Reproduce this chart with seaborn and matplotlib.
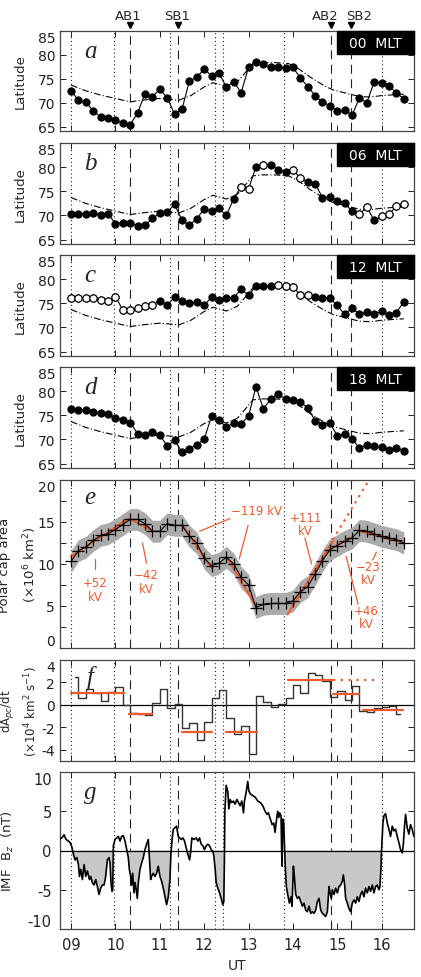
import numpy as np
import matplotlib
matplotlib.use('Agg')
import matplotlib.pyplot as plt
import matplotlib.transforms as mtrans
from matplotlib.patches import Rectangle
import seaborn as sns

sns.set_style('ticks')
plt.rcParams['font.family'] = ['DejaVu Sans']
plt.rcParams['axes.unicode_minus'] = False

# ---------------- data ----------------
# 10-min samples 09:00 - 16:30 UT
t10 = 9.0 + np.arange(46) / 6.0

lat_00 = [72.4, 70.6, 70.1, 68.3, 67.0, 66.9, 66.3, 65.8, 65.4, 67.9,
          71.9, 71.3, 72.8, 71.1, 67.6, 68.6, 74.6, 75.3, 77.1, 75.6,
          76.2, 73.3, 74.4, 72.1, 77.4, 78.6, 78.1, 77.4, 77.5, 77.2,
          77.4, 75.2, 73.4, 71.5, 70.1, 69.4, 68.2, 68.5, 67.4, 71.0,
          70.0, 74.4, 74.1, 73.5, 72.1, 70.8]
lat_06 = [70.35, 70.35, 70.35, 70.5, 70.0, 70.35, 68.3, 68.5, 68.4, 67.9,
          68.0, 69.4, 70.5, 70.7, 72.3, 69.0, 68.0, 69.3, 71.4, 70.9,
          71.5, 70.0, 73.5, 75.9, 75.5, 80.0, 80.5, 80.5, 79.5, 79.0,
          79.4, 77.8, 76.9, 76.6, 73.7, 73.8, 73.0, 72.5, 70.9, 70.3,
          71.7, 69.0, 69.8, 70.3, 71.9, 72.3]
lat_12 = [76.0, 76.0, 76.0, 76.0, 75.7, 75.4, 76.4, 73.6, 73.6, 74.1,
          74.4, 74.7, 75.5, 74.6, 76.3, 75.5, 75.0, 75.2, 74.6, 76.3,
          75.6, 76.2, 76.2, 77.9, 76.7, 78.5, 78.5, 78.6, 78.7, 78.6,
          78.4, 76.8, 76.8, 76.4, 76.2, 76.0, 74.6, 72.7, 74.0, 72.8,
          73.2, 72.8, 73.4, 72.6, 73.1, 75.3]
lat_18 = [76.4, 76.0, 76.1, 75.7, 75.5, 75.2, 74.5, 74.1, 73.5, 71.2,
          71.0, 71.6, 70.9, 68.7, 69.8, 67.4, 68.1, 68.9, 70.1, 74.8,
          74.0, 72.6, 73.4, 73.3, 74.8, 80.9, 76.4, 78.3, 79.4, 78.3,
          78.1, 77.7, 76.6, 73.9, 73.1, 73.4, 70.8, 71.2, 70.1, 68.3,
          68.8, 68.6, 68.5, 67.9, 68.2, 67.7]
# samples drawn as open circles
open_00 = []
open_06 = [23, 24, 26, 30, 31, 39, 40, 42, 43, 44, 45]
open_12 = [0, 1, 2, 3, 4, 5, 6, 7, 8, 9, 10, 11, 28, 29, 30, 31, 32]
open_18 = []
mlt_names = ['00  MLT', '06  MLT', '12  MLT', '18  MLT']

# reference (model) boundary, dash-dot
ref_t = [9.0, 9.33, 9.67, 10.0, 10.33, 10.67, 11.0, 11.25, 11.42, 11.7, 12.0, 12.2,
         12.5, 12.75, 12.9, 13.1, 13.3, 13.6, 13.9, 14.1, 14.4, 14.7, 14.9, 15.2,
         15.5, 15.75, 16.0, 16.5]
ref_lat = [73.7, 72.5, 71.6, 70.9, 70.2, 70.6, 70.9, 70.7, 70.5, 71.5, 73.3, 74.2,
           73.4, 74.4, 76.0, 78.2, 78.4, 78.4, 78.2, 77.3, 75.3, 73.6, 72.7, 72.0,
           71.3, 71.2, 71.5, 71.8]

# polar cap area (x10^6 km^2)
area = [10.3, 11.6, 12.0, 12.8, 13.4, 13.6, 14.1, 14.7, 15.3, 15.3,
        14.8, 13.9, 13.9, 14.8, 14.6, 14.6, 13.3, 12.5, 10.7, 9.8,
        10.1, 10.8, 10.0, 8.4, 7.5, 4.8, 5.2, 5.3, 5.3, 5.3,
        5.6, 6.7, 7.3, 8.8, 10.4, 11.7, 12.2, 12.7, 13.1, 14.0,
        13.9, 13.6, 13.3, 13.1, 12.9, 12.5]
area_err = 1.3

# fitted segments: (t0, v0, t1, v1)
fit_area = [(9.0, 10.9, 10.29, 15.4), (10.31, 15.4, 10.82, 14.0),
            (11.5, 14.7, 12.18, 9.4), (12.5, 10.9, 13.18, 4.9),
            (13.88, 4.0, 14.9, 12.7), (14.87, 11.9, 15.33, 13.2),
            (15.45, 14.0, 16.5, 12.5)]
fit_area_dotted = (14.9, 12.9, 15.75, 20.3)
volt_labels = ['+52\nkV', '\u221242\nkV', '\u2212119 kV', '+111\nkV', '\u221223\nkV', '+46\nkV']

# dA/dt, step centres halfway between samples
t_mid = 9.0 + (np.arange(45) + 0.5) / 6.0
dadt = [2.45, 0.6, 1.4, 1.05, 0.36, 1.16, 1.6, 0.0, -0.75, -0.8,
        -0.9, 0.2, 1.46, -0.3, 0.1, -2.1, -1.6, -3.1, -1.5, 0.6,
        1.3, -1.2, -2.55, -1.85, -4.4, 0.8, 0.27, -0.2, 0.08, 0.62,
        1.76, 1.05, 2.8, 2.65, 2.15, 0.66, 1.28, 0.42, 1.7, -0.5,
        -0.6, -0.28, -0.2, -0.1, -0.78]
# mean rates: (t0, t1, value)
fit_rate = [(9.0, 10.2, 1.05), (10.31, 10.82, -0.84), (11.5, 12.18, -2.39),
            (12.5, 13.2, -2.39), (13.89, 14.9, 2.24), (14.9, 15.48, 0.95),
            (15.57, 16.48, -0.45)]
fit_rate_dotted = (14.9, 15.95, 2.24)

# IMF Bz (nT)
bz_t = [8.752, 8.790, 8.842, 8.887, 8.940, 8.977, 9.015, 9.053, 9.090, 9.128,
        9.165, 9.188, 9.218, 9.255, 9.293, 9.330, 9.368, 9.413, 9.443, 9.480,
        9.518, 9.555, 9.593, 9.630, 9.668, 9.705, 9.743, 9.780, 9.818, 9.855,
        9.878, 9.900, 9.923, 9.938, 9.953, 9.990, 10.028, 10.065, 10.103, 10.140,
        10.178, 10.215, 10.253, 10.290, 10.313, 10.343, 10.365, 10.388, 10.418, 10.440,
        10.463, 10.493, 10.515, 10.553, 10.590, 10.628, 10.665, 10.703, 10.740, 10.763,
        10.793, 10.815, 10.853, 10.890, 10.928, 10.965, 11.003, 11.040, 11.078, 11.116,
        11.153, 11.191, 11.228, 11.251, 11.281, 11.303, 11.341, 11.378, 11.415, 11.483,
        11.521, 11.558, 11.596, 11.633, 11.671, 11.693, 11.723, 11.768, 11.821, 11.858,
        11.896, 11.933, 11.971, 12.008, 12.046, 12.083, 12.121, 12.158, 12.196, 12.218,
        12.248, 12.271, 12.308, 12.346, 12.383, 12.421, 12.443, 12.458, 12.466, 12.496,
        12.533, 12.556, 12.586, 12.623, 12.661, 12.698, 12.736, 12.773, 12.811, 12.848,
        12.886, 12.908, 12.946, 12.983, 13.006, 13.043, 13.096, 13.148, 13.208, 13.268,
        13.321, 13.373, 13.418, 13.448, 13.493, 13.531, 13.568, 13.598, 13.621, 13.658,
        13.681, 13.703, 13.733, 13.748, 13.756, 13.771, 13.793, 13.808, 13.831, 13.853,
        13.883, 13.921, 13.958, 13.981, 14.011, 14.033, 14.064, 14.102, 14.139, 14.177,
        14.214, 14.252, 14.289, 14.327, 14.364, 14.402, 14.439, 14.477, 14.514, 14.552,
        14.589, 14.627, 14.664, 14.702, 14.739, 14.777, 14.799, 14.814, 14.837, 14.867,
        14.889, 14.927, 14.964, 15.002, 15.039, 15.077, 15.114, 15.137, 15.167, 15.189,
        15.227, 15.264, 15.302, 15.339, 15.377, 15.414, 15.452, 15.489, 15.527, 15.564,
        15.602, 15.639, 15.677, 15.714, 15.752, 15.789, 15.827, 15.864, 15.902, 15.939,
        15.962, 15.984, 15.999, 16.029, 16.052, 16.089, 16.127, 16.164, 16.202, 16.240,
        16.277, 16.315, 16.352, 16.390, 16.427, 16.465, 16.487, 16.517, 16.540, 16.577,
        16.615, 16.652, 16.690, 16.727]
bz_v = [1.5, 1.6, 2.0, 1.4, 1.2, 1.0, 0.5, -0.5, -1.2, -0.9,
        -1.8, -3.3, -2.4, -3.7, -1.8, -3.3, -2.6, -3.7, -3.3, -4.1,
        -4.4, -3.7, -4.6, -5.6, -4.8, -4.4, -4.4, -3.3, -1.2, -0.9,
        -1.6, -4.1, -5.2, -5.0, 0.6, 1.4, 1.6, 1.8, 1.2, 1.8,
        1.9, 1.2, 0.1, -0.9, -2.4, -3.3, -4.4, -2.9, -5.4, -4.1,
        -4.8, -6.1, -4.1, -2.4, -1.6, -0.9, 0.1, 0.8, 1.4, -0.7,
        -3.7, -3.3, -2.9, -3.3, -2.9, -2.0, -3.3, -3.9, -4.8, -5.9,
        -6.9, -5.9, -3.7, -0.3, 1.6, 2.7, 2.9, 3.1, 1.8, 1.4,
        1.6, 1.2, 0.3, -0.5, -1.2, -0.3, 1.6, 1.4, 1.6, 1.2,
        1.6, 0.8, 0.6, 0.1, 0.6, 0.8, 0.6, 0.1, -0.1, -0.7,
        -2.4, -4.1, -4.8, -5.4, -6.1, -6.9, -6.5, -0.3, 4.9, 8.3,
        7.5, 5.3, 6.5, 6.1, 6.3, 5.9, 6.5, 6.1, 5.7, 6.3,
        4.8, 6.3, 7.4, 8.8, 7.6, 7.2, 7.0, 6.8, 6.3, 6.1,
        5.7, 5.0, 4.6, 4.8, 4.0, 3.3, 3.5, 2.3, 3.5, 5.0,
        4.2, 4.8, 4.4, -0.7, -2.0, 4.0, 3.5, 1.0, -2.4, -4.6,
        -5.6, -6.7, -5.9, -7.1, -2.0, -3.3, -5.6, -6.1, -5.9, -6.5,
        -7.1, -6.7, -7.6, -7.8, -7.1, -8.0, -7.8, -8.0, -7.6, -6.5,
        -6.1, -7.6, -8.0, -8.2, -8.4, -7.8, -5.9, -4.6, -5.4, -6.1,
        -5.0, -5.6, -4.8, -5.4, -4.6, -4.4, -3.9, -3.1, -4.4, -6.1,
        -6.7, -7.4, -7.8, -6.7, -6.3, -6.7, -5.9, -6.5, -5.6, -5.2,
        -5.9, -4.8, -5.4, -4.6, -5.2, -4.4, -5.4, -4.6, -4.4, -5.0,
        -4.6, -2.4, 0.1, 3.5, 4.4, 4.7, 3.5, 2.7, 1.8, 3.1,
        2.5, 2.7, 1.8, 1.0, 0.1, -0.3, 0.6, 3.1, 4.6, 2.9,
        2.1, 3.3, 2.7, 1.8]

# event times (UT)
dotted_ut = [9.0, 9.975, 11.235, 12.24, 12.43, 13.8, 16.0]
dashed_ut = [10.33, 11.415, 14.87, 15.32]
event_names = ['AB1', 'SB1', 'AB2', 'SB2']

RED = '#ef5a2c'
W, H = 421., 978.
L, R = 60., 414.
XLIM = (8.75, 16.73)


def add_axes(top, bottom):
    return fig.add_axes([L / W, 1 - bottom / H, (R - L) / W, (bottom - top) / H])


def style_axis(ax, ylim, yticks, ylabel, labx, minor=None, shift_bottom=False, lettery=0.82,
               letter='', lspace=1.75, lsize=9.5):
    ax.set_xlim(*XLIM)
    ax.set_ylim(*ylim)
    ax.set_xticks(range(9, 17))
    ax.set_xticklabels(['%02d' % h for h in range(9, 17)])
    ax.set_yticks(yticks)
    if minor is not None:
        ax.set_yticks(minor, minor=True)
    ax.tick_params(direction='in', top=True, right=True, length=4, width=0.7,
                   labelsize=10, labelbottom=False, colors='#222222')
    ax.tick_params(which='minor', direction='in', right=True, left=True, length=4, width=0.7)
    for s in ax.spines.values():
        s.set_linewidth(0.9)
        s.set_color('#444444')
    ticks = ax.yaxis.get_major_ticks()
    if yticks[-1] >= ylim[1] - 1e-6:
        ticks[-1].label1.set_verticalalignment('top')
    if shift_bottom:
        ticks[0].label1.set_verticalalignment('bottom')
    ax.set_ylabel(ylabel, fontsize=lsize, va='center', linespacing=lspace)
    ax.yaxis.set_label_coords(labx, 0.5)
    ax.set_xlabel('')
    for u in dotted_ut:
        ax.axvline(u, color='#222222', lw=0.8, ls=(0, (1, 2.5)), zorder=1)
    for u in dashed_ut:
        ax.axvline(u, color='#222222', lw=0.8, ls=(0, (8, 5)), zorder=1)
    ax.text(0.085, lettery, letter, transform=ax.transAxes, fontsize=18,
            family='Liberation Serif', style='italic', ha='center', va='center')


fig = plt.figure(figsize=(W / 100, H / 100), dpi=100)
panels_px = [(32, 132), (144, 245), (256, 357), (368, 469), (481, 649), (661, 762), (773, 930)]

# ---- latitude panels a-d
lats = [lat_00, lat_06, lat_12, lat_18]
opens = [open_00, open_06, open_12, open_18]
for i in range(4):
    ax = add_axes(*panels_px[i])
    lat = np.array(lats[i])
    sns.lineplot(x=ref_t, y=ref_lat, ax=ax, color='k', lw=0.8, ls=(0, (6, 2, 1, 2)),
                 estimator=None, sort=False, zorder=2)
    sns.lineplot(x=t10, y=lat, ax=ax, color='k', lw=0.8, marker='o', markersize=5.2,
                 markerfacecolor='k', markeredgecolor='k', estimator=None, sort=False, zorder=3)
    if opens[i]:
        idx = np.array(opens[i])
        ax.plot(t10[idx], lat[idx], 'o', ms=5.2, mfc='white', mec='k', mew=0.8, zorder=4)
    style_axis(ax, (64.1, 85), [65, 70, 75, 80, 85], 'Latitude', -0.113,
               letter='abcd'[i], lettery=0.8)
    ax.add_patch(Rectangle((0.782, 0.77), 0.218, 0.23, transform=ax.transAxes,
                           color='k', zorder=5, clip_on=False))
    ax.text(0.891, 0.885, mlt_names[i], transform=ax.transAxes, color='white',
            fontsize=10, ha='center', va='center', zorder=6)
    if i == 0:
        trans = mtrans.blended_transform_factory(ax.transData, ax.transAxes)
        text_x = [10.29, 11.38, 14.72, 15.49]
        for u, tx, name in zip(dashed_ut, text_x, event_names):
            ax.plot([u], [1.06], marker='v', ms=4, color='k', transform=trans, clip_on=False)
            ax.text(tx, 1.15, name, transform=trans, fontsize=9.5, ha='center', va='center')

# ---- polar cap area, e
ax = add_axes(*panels_px[4])
area = np.array(area)
ax.fill_between(t10, area - area_err, area + area_err, color='#ababab', lw=0, zorder=2)
for t0, v0, t1, v1 in fit_area:
    ax.plot([t0, t1], [v0, v1], color=RED, lw=1.5, zorder=3)
t0, v0, t1, v1 = fit_area_dotted
ax.plot([t0, t1], [v0, v1], color=RED, lw=1.6, ls=(0, (1, 2.2)), zorder=3)
sns.lineplot(x=t10, y=area, ax=ax, color='k', lw=0.8, marker='+', markersize=8,
             markeredgewidth=0.9, markeredgecolor='k', estimator=None, sort=False, zorder=4)
label_pos = [(9.54, 6.95), (10.70, 7.9), (13.18, 16.4), (14.29, 14.75), (15.69, 8.9), (15.65, 3.7)]
for (lx, ly), s in zip(label_pos, volt_labels):
    ax.text(lx, ly, s, color=RED, fontsize=8.5, ha='center', va='center', linespacing=1.05)
leaders = [((9.54, 10.6), (9.54, 9.4)), ((10.61, 12.5), (10.70, 10.1)),
           ((12.58, 15.4), (11.9, 13.9)), ((12.99, 14.6), (12.79, 10.6)),
           ((14.27, 13.1), (14.42, 10.0)), ((15.2, 10.9), (15.47, 5.2)),
           ((15.88, 11.4), (15.80, 10.5))]
for (xa, ya), (xb, yb) in leaders:
    ax.plot([xa, xb], [ya, yb], color=RED, lw=0.9)
style_axis(ax, (0, 20), [0, 5, 10, 15, 20], 'Polar cap area\n(\u00d710$^6$ km$^2$)', -0.117,
           minor=[2.5, 7.5, 12.5, 17.5], shift_bottom=True, letter='e', lettery=0.9)

# ---- dA/dt, f
ax = add_axes(*panels_px[5])
ax.axhline(0, color='k', lw=0.9, zorder=2)
sns.lineplot(x=t_mid, y=dadt, ax=ax, color='#333333', lw=1.0, drawstyle='steps-mid',
             estimator=None, sort=False, zorder=3)
for t0, t1, v in fit_rate:
    ax.plot([t0, t1], [v, v], color=RED, lw=1.6, zorder=4)
t0, t1, v = fit_rate_dotted
ax.plot([t0, t1], [v, v], color=RED, lw=1.6, ls=(0, (1, 2.5)), zorder=4)
style_axis(ax, (-5, 4), [-4, -2, 0, 2, 4], 'dA$_{pc}$/dt\n(\u00d710$^4$ km$^2$ s$^{-1}$)', -0.114,
           letter='f', lettery=0.84, lspace=1.4, lsize=8.5)

# ---- IMF Bz, g
ax = add_axes(*panels_px[6])
bz_t = np.array(bz_t)
bz_v = np.array(bz_v)
ax.fill_between(bz_t, bz_v, 0, where=bz_v < 0, interpolate=True, color='#c8c8c8', lw=0, zorder=2)
ax.axhline(0, color='k', lw=0.9, zorder=3)
sns.lineplot(x=bz_t, y=bz_v, ax=ax, color='k', lw=1.2, estimator=None, sort=False, zorder=4)
style_axis(ax, (-10, 10), [-10, -5, 0, 5, 10], 'IMF  B$_z$  (nT)', -0.147,
           shift_bottom=True, letter='g', lettery=0.87)
ax.tick_params(labelbottom=True, labelsize=10.5, pad=6)
ax.set_xlabel('UT', fontsize=10, labelpad=4)

fig.savefig('out.png', dpi=100)
